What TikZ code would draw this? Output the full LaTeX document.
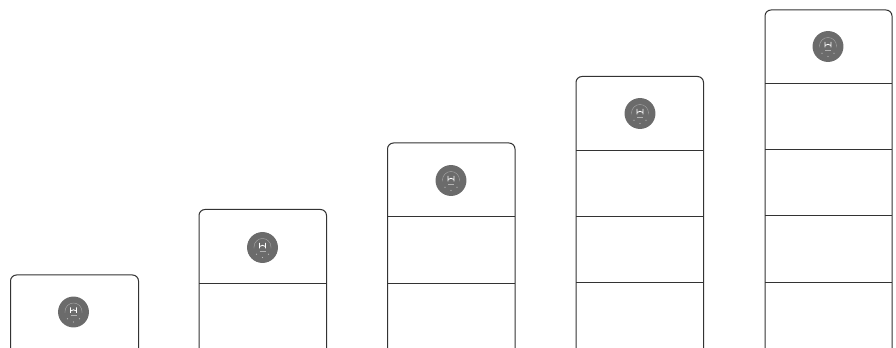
\documentclass[tikz,border=0pt]{standalone}
\tikzset{
  x=0.75pt,y=-0.75pt,
  tower/.style={draw=black!80,line width=0.75pt,rounded corners=4.5pt},
  divider/.style={draw=black!80,line width=0.75pt},
  badge/.style={fill=black!58,draw=none},
  ringline/.style={draw=black!30,line width=0.25pt},
  logoline/.style={draw=white,line width=0.6pt},
  dotmark/.style={fill=black!25,draw=none},
  pics/unitbadge/.style={code={
    \fill[badge] (0,0) circle[radius=11.6pt];
    \draw[ringline] (-8.5,1) -- (-8.5,-0.5) arc[start angle=180,end angle=360,radius=8.5] -- (8.5,1);
    \draw[logoline] (-3,-4.5) -- (-3,1) (3,-4.5) -- (3,1) (-3,-1) -- (0,-2.2) -- (3,-1);
    \draw[ringline] (-3,3.2) -- (3,3.2);
    \fill[dotmark] (-6,6.7) circle[radius=0.45pt] (6,6.7) circle[radius=0.45pt] (0,10) circle[radius=0.45pt];
  }}
}
\begin{document}
\begin{tikzpicture}
\useasboundingbox (0,0) rectangle (896,348);
\clip (0,0) rectangle (896,348);
% tower 1
\draw[tower] (10.5,352) -- (10.5,275) -- (138.5,275) -- (138.5,352);
\pic at (73.5,312) {unitbadge};
% tower 2
\draw[tower] (199,352) -- (199,209.5) -- (326.5,209.5) -- (326.5,352);
\draw[divider] (199,283.5) -- (326.5,283.5);
\pic at (262.5,247.5) {unitbadge};
% tower 3
\draw[tower] (387.5,352) -- (387.5,143) -- (515,143) -- (515,352);
\draw[divider] (387.5,217) -- (515,217);
\draw[divider] (387.5,283.5) -- (515,283.5);
\pic at (451,180.5) {unitbadge};
% tower 4
\draw[tower] (576,352) -- (576,76.5) -- (703.5,76.5) -- (703.5,352);
\draw[divider] (576,150.5) -- (703.5,150.5);
\draw[divider] (576,216.5) -- (703.5,216.5);
\draw[divider] (576,283) -- (703.5,283);
\pic at (640,113.5) {unitbadge};
% tower 5
\draw[tower] (765,352) -- (765,10) -- (892,10) -- (892,352);
\draw[divider] (765,83.5) -- (892,83.5);
\draw[divider] (765,149.5) -- (892,149.5);
\draw[divider] (765,216) -- (892,216);
\draw[divider] (765,282.5) -- (892,282.5);
\pic at (828,46.5) {unitbadge};
\end{tikzpicture}
\end{document}
